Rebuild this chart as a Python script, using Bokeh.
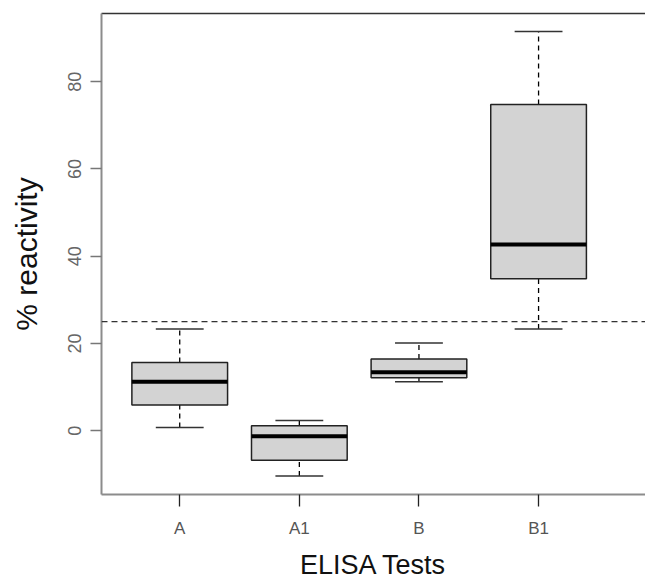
from bokeh.plotting import figure
from bokeh.models import FixedTicker, LinearAxis, Range1d, Span, ColumnDataSource
from bokeh.embed import file_html
from bokeh.resources import INLINE

# ---- data ----
categories = ["A", "A1", "B", "B1"]
whisker_low = [0.7, -10.4, 11.2, 23.3]
q1 = [5.9, -6.8, 12.1, 34.8]
median = [11.2, -1.3, 13.4, 42.7]
q3 = [15.6, 1.1, 16.4, 74.8]
whisker_high = [23.3, 2.3, 20.1, 91.5]
threshold = 25
y_ticks = [0, 20, 40, 60, 80]

xpos = [i + 1 for i in range(len(categories))]
box_w = 0.8
cap_w = 0.4

src = ColumnDataSource(dict(x=xpos, lo=whisker_low, q1=q1, med=median, q3=q3, hi=whisker_high,
                            cl=[x - cap_w / 2 for x in xpos], cr=[x + cap_w / 2 for x in xpos],
                            bl=[x - box_w / 2 for x in xpos], br=[x + box_w / 2 for x in xpos]))

FONT = "Liberation Sans"

p = figure(width=645, height=582, output_backend="svg", toolbar_location=None,
           x_range=Range1d(0.346, 4.894), y_range=Range1d(-14.65, 95.65),
           min_border_left=101, min_border_right=0, min_border_top=13, min_border_bottom=87)
p.outline_line_color = None
p.grid.visible = False
p.background_fill_color = "white"
p.border_fill_color = "white"

# threshold line
p.add_layout(Span(location=threshold, dimension="width", line_color="#333333",
                  line_width=1.3, line_dash="6 4"))

# whiskers
p.segment(x0="x", y0="q3", x1="x", y1="hi", source=src, line_color="black", line_width=1.3, line_dash="5 4")
p.segment(x0="x", y0="lo", x1="x", y1="q1", source=src, line_color="black", line_width=1.3, line_dash="5 4")
p.segment(x0="cl", y0="hi", x1="cr", y1="hi", source=src, line_color="#333333", line_width=1.5)
p.segment(x0="cl", y0="lo", x1="cr", y1="lo", source=src, line_color="#333333", line_width=1.5)

# boxes
p.vbar(x="x", width=box_w, bottom="q1", top="q3", source=src, fill_color="#d3d3d3",
       line_color="#222222", line_width=1.5)
p.segment(x0="bl", y0="med", x1="br", y1="med", source=src, line_color="black", line_width=4)

# y axis
ya = p.yaxis[0]
ya.ticker = FixedTicker(ticks=y_ticks)
ya.axis_line_color = "#8c8c8c"
ya.axis_line_width = 2
ya.major_tick_line_color = "#777777"
ya.major_tick_line_width = 1.3
ya.major_tick_out = 11
ya.major_tick_in = 0
ya.minor_tick_line_color = None
ya.major_label_orientation = "vertical"
ya.major_label_text_font = FONT
ya.major_label_text_font_size = "18px"
ya.major_label_text_color = "#666666"
ya.major_label_standoff = 9
ya.axis_label = "% reactivity"
ya.axis_label_text_font = FONT
ya.axis_label_text_font_size = "30px"
ya.axis_label_text_font_style = "normal"
ya.axis_label_text_color = "#111111"
ya.axis_label_standoff = 23

# x axis
xa = p.xaxis[0]
xa.ticker = FixedTicker(ticks=xpos)
xa.major_label_overrides = {x: c for x, c in zip(xpos, categories)}
xa.axis_line_color = "#8c8c8c"
xa.axis_line_width = 2
xa.major_tick_line_color = "#222222"
xa.major_tick_line_width = 1.3
xa.major_tick_out = 12
xa.major_tick_in = 0
xa.minor_tick_line_color = None
xa.major_label_text_font = FONT
xa.major_label_text_font_size = "17px"
xa.major_label_text_color = "#555555"
xa.major_label_standoff = 12
xa.axis_label = "ELISA Tests"
xa.axis_label_text_font = FONT
xa.axis_label_text_font_size = "27px"
xa.axis_label_text_font_style = "normal"
xa.axis_label_text_color = "#111111"
xa.axis_label_standoff = 9

# top border
top = LinearAxis(ticker=FixedTicker(ticks=[]), axis_line_color="#333333", axis_line_width=1.6,
                 major_tick_out=0, major_tick_in=0, minor_tick_line_color=None,
                 major_label_text_font_size="0px", major_label_standoff=0)
p.add_layout(top, "above")

open("out.html", "w").write(file_html(p, INLINE))
